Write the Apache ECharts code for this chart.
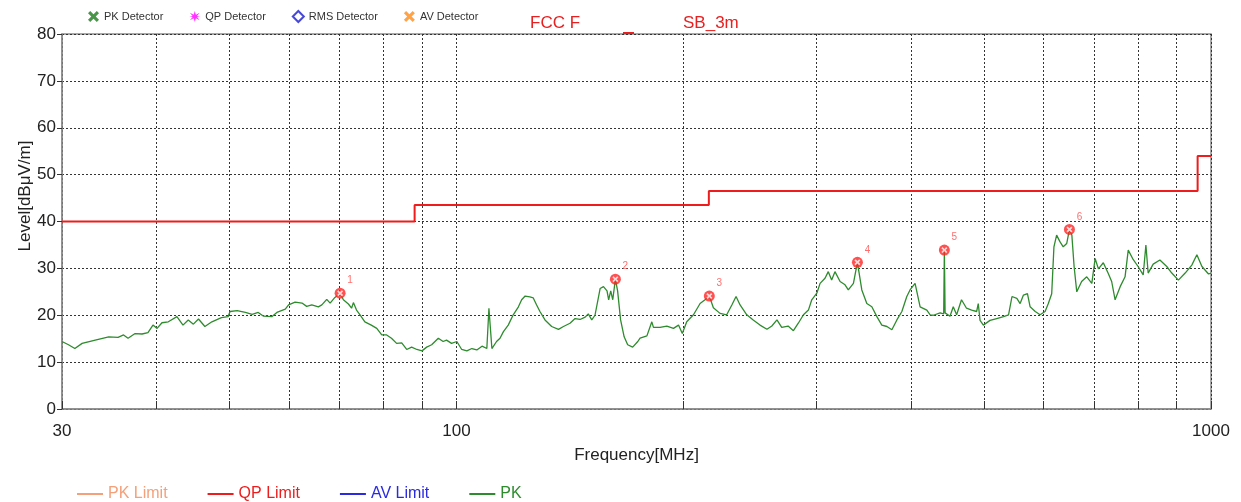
<!DOCTYPE html>
<html><head><meta charset="utf-8">
<script src="https://cdn.jsdelivr.net/npm/echarts@6/dist/echarts.min.js"></script>
<style>html,body{margin:0;padding:0;background:#fff}#c{width:1241px;height:502px}</style>
</head><body><div id="c"></div><script>
// ---- data ----
const pkFreq = [30,30.6,31.2,31.9,33.2,34.6,35.6,36.2,36.7,37.5,38.3,39.0,39.6,40.1,40.7,41.5,42.6,43.4,44.1,44.8,45.5,46.4,47.4,48.8,49.8,50.1,51.2,52.5,53.6,54.6,55.5,56.9,57.8,59.3,59.9,61.1,62.4,63.3,64.3,65.6,66.3,67.3,68.0,69.0,70.1,70.8,71.9,72.6,73.0,73.7,74.5,75.6,77.1,78.4,79.6,80.8,82.0,83.3,84.6,85.9,87.2,88.6,90.0,91.3,92.7,94.6,96.0,97.0,98.5,100.1,101.6,103.2,104.8,106.4,108.1,109.7,110.4,110.9,111.4,113.0,114.2,115.4,117.1,118.9,120.8,122.0,123.3,125.1,126.4,127.7,129.0,131.0,133.7,136.5,138.6,141.4,143.6,145.8,148.1,149.5,151.1,152.6,155.0,156.6,158.3,159.1,160.1,161.1,162.4,163.5,165.0,166.8,168.6,171.2,173.9,175.1,178.8,181.5,182.4,186.1,190.0,193.9,196.9,199.2,201.9,206.1,210.3,213.5,216.3,219.0,223.5,228.1,231.7,234.7,237.6,242.5,247.3,252.5,257.9,261.8,265.9,269.8,275.1,279.6,283.8,288.3,292.7,295.7,300.3,303.3,307.9,311.0,314.2,317.4,322.4,327.3,330.6,335.8,339.9,344.5,349.8,355.2,360.7,366.2,371.9,377.6,383.4,389.3,395.2,399.1,405.3,411.6,420.1,424.4,428.6,430.8,437.5,442.3,443.2,444.2,450.9,455.4,460.1,467.0,474.2,481.7,489.1,491.5,494.2,499.2,509.5,520.0,530.9,539.1,544.8,552.9,558.5,564.2,571.1,575.8,584.8,593.6,602.7,608.7,615.0,619.2,624.3,630.6,637.0,643.8,649.2,654.0,658.5,663.9,673.8,684.4,695.1,702.1,709.2,719.9,730.9,738.5,746.3,757.9,769.3,776.8,788.5,800.5,813.1,819.8,825.5,838.3,855.6,873.7,887.2,905.3,924.2,943.1,957.8,972.7,992.5,1000];
const pkLevel = [14.4,13.7,12.9,14.0,14.7,15.4,15.3,15.8,15.1,16.1,16.0,16.3,17.9,17.2,18.4,18.6,19.7,17.9,19.0,18.1,19.2,17.6,18.6,19.5,19.7,20.8,21.0,20.6,20.2,20.6,19.8,19.7,20.6,21.3,22.2,22.8,22.6,21.9,22.2,21.8,22.2,23.4,22.6,23.8,24.7,23.3,22.4,21.5,22.7,21.1,20.1,18.6,17.9,17.2,15.8,15.8,15.1,14.0,14.1,12.7,13.2,12.7,12.4,13.2,13.7,15.1,14.4,14.7,14.0,14.4,12.7,12.4,12.9,12.6,13.4,12.9,21.5,21.5,12.9,14.4,15.1,16.5,17.9,20.1,21.8,23.3,24.1,23.9,23.7,22.2,20.8,19.0,17.6,17.0,17.6,18.3,19.3,19.1,19.6,20.3,19.0,20.0,25.7,26.1,25.2,23.3,25.2,23.3,27.7,25.2,19.0,15.4,13.7,13.2,14.4,15.1,15.6,18.6,17.4,17.4,17.7,17.2,17.9,16.1,18.6,20.1,22.5,23.3,24.1,21.6,20.4,20.1,22.2,24.0,22.2,20.1,19.0,17.9,17.0,17.7,19.0,17.4,17.7,16.7,18.3,20.1,21.1,23.3,24.7,26.8,27.9,29.3,27.5,29.3,27.2,26.5,25.4,26.8,31.3,25.4,22.5,21.8,19.7,17.9,17.6,16.9,19.0,20.8,24.0,25.4,26.8,21.8,21.1,20.1,20.0,19.8,20.5,20.3,33.9,20.5,19.8,21.8,20.1,23.3,21.5,21.1,20.8,22.5,18.9,17.9,18.9,19.3,19.7,20.1,24.0,23.6,22.5,24.3,24.6,21.8,20.8,20.1,20.8,22.5,24.6,34.6,37.1,35.7,34.6,35.3,38.3,37.1,30.4,25.0,27.2,28.2,26.8,32.1,29.9,31.2,28.9,27.2,23.3,26.1,28.2,33.9,31.9,30.4,28.6,35.0,29.0,30.9,31.8,30.4,29.0,27.5,29.0,30.7,32.9,30.4,28.8,29.0];
const limitFreq  = [30, 88, 88, 216, 216, 960, 960, 1000];
const limitLevel = [40, 40, 43.5, 43.5, 46.5, 46.5, 54, 54];
const markerFreq  = [70.1, 162.4, 216.3, 339.9, 443.2, 649.2];
const markerLevel = [24.7, 27.7, 24.1, 31.3, 33.9, 38.3];
const markerLabels = ['1','2','3','4','5','6'];
const xTickValues  = [30,40,50,60,70,80,90,100,200,300,400,500,600,700,800,900,1000];
const xLabelValues = [30,100,1000];
const detectorNames = ['PK Detector','QP Detector','RMS Detector','AV Detector'];
const traceNames = ['PK Limit','QP Limit','AV Limit','PK'];

// ---- chart ----
const FONT = '"Liberation Sans", Arial, sans-serif';
const C = {pkLim:'#f4a07a', qp:'#ee1c1c', av:'#2a2ae0', pk:'#2e8b2e', mk:'#ff2626'};
const X_PATH = 'path://M2,0 L5,3 L8,0 L10,2 L7,5 L10,8 L8,10 L5,7 L2,10 L0,8 L3,5 L0,2 Z';
const STAR_PATH = 'path://M5,0 L6,3.5 L9.5,1.5 L7,4.5 L10,5 L7,5.5 L9.5,8.5 L6,6.5 L5,10 L4,6.5 L0.5,8.5 L3,5.5 L0,5 L3,4.5 L0.5,1.5 L4,3.5 Z';

const chart = echarts.init(document.getElementById('c'), null, {renderer:'canvas'});
const zip = (a,b) => a.map((v,i)=>[v,b[i]]);

chart.setOption({
  animation:false,
  textStyle:{fontFamily:FONT},
  grid:{left:62,right:30,top:34,bottom:93,show:true,borderColor:'#8c8c8c',borderWidth:1.5},
  xAxis:{
    type:'log', logBase:10, min:30, max:1000,
    name:'Frequency[MHz]', nameLocation:'middle', nameGap:38,
    nameTextStyle:{fontSize:17,color:'#222',fontFamily:FONT},
    axisLine:{show:true,lineStyle:{color:'#8c8c8c',width:1.5}},
    axisTick:{show:true,inside:true,length:8,customValues:xTickValues,lineStyle:{color:'#333'}},
    axisLabel:{customValues:xLabelValues,fontSize:17,color:'#222',margin:14,fontFamily:FONT,
      formatter:v=>String(Math.round(v))},
    splitLine:{show:true,lineStyle:{color:'#333',type:[2,2],width:1}}
  },
  yAxis:{
    type:'value', min:0, max:80, interval:10,
    axisLine:{show:true,lineStyle:{color:'#8c8c8c',width:1.5}},
    axisTick:{show:true,inside:false,length:5,lineStyle:{color:'#333'}},
    axisLabel:{fontSize:17,color:'#222',margin:6,fontFamily:FONT},
    splitLine:{show:true,lineStyle:{color:'#333',type:[2,2],width:1}}
  },
  legend:[
    {top:5,left:83,itemGap:26,itemWidth:11,itemHeight:11,selectedMode:false,
     textStyle:{fontSize:11,color:'#333',fontFamily:FONT},data:detectorNames},
    {top:481,left:72,itemGap:40,itemWidth:26,itemHeight:2,icon:'rect',selectedMode:false,
     textStyle:{fontSize:16,fontFamily:FONT},
     data:[{name:traceNames[0],textStyle:{color:C.pkLim}},{name:traceNames[1],textStyle:{color:C.qp}},
           {name:traceNames[2],textStyle:{color:C.av}},{name:traceNames[3],textStyle:{color:C.pk}}]}
  ],
  graphic:[
    {type:'text',left:530,top:15,style:{text:'FCC F',fill:'#e82020',font:'17px '+FONT}},
    {type:'rect',shape:{x:623,y:32,width:11,height:2},style:{fill:'#e82020'}},
    {type:'text',left:683,top:15,style:{text:'SB_3m',fill:'#e82020',font:'17px '+FONT}},
    {type:'text',x:25,y:196,rotation:Math.PI/2,
     style:{text:'Level[dBμV/m]',align:'center',verticalAlign:'middle',fill:'#222',font:'17px '+FONT}}
  ],
  series:[
    {name:detectorNames[0],type:'scatter',data:[],symbol:X_PATH,itemStyle:{color:'#1e7a1e'}},
    {name:detectorNames[1],type:'scatter',data:[],symbol:STAR_PATH,itemStyle:{color:'#ff00ff'}},
    {name:detectorNames[2],type:'scatter',data:[],symbol:'diamond',
     itemStyle:{color:'#ffffff',borderColor:'#1a1ad0',borderWidth:2}},
    {name:detectorNames[3],type:'scatter',data:[],symbol:X_PATH,itemStyle:{color:'#ff8c1a'}},
    {name:traceNames[0],type:'line',data:[],symbol:'none',lineStyle:{color:C.pkLim,width:2},itemStyle:{color:C.pkLim}},
    {name:traceNames[2],type:'line',data:[],symbol:'none',lineStyle:{color:C.av,width:2},itemStyle:{color:C.av}},
    {name:traceNames[3],type:'line',data:zip(pkFreq,pkLevel),symbol:'none',showSymbol:false,
     lineStyle:{color:C.pk,width:1.3},itemStyle:{color:C.pk},z:3},
    {name:traceNames[1],type:'line',data:zip(limitFreq,limitLevel),symbol:'none',
     lineStyle:{color:C.qp,width:2},itemStyle:{color:C.qp},z:4},
    {name:'Markers',type:'scatter',data:zip(markerFreq,markerLevel),symbol:'circle',symbolSize:11,
     itemStyle:{color:C.mk},z:5,
     label:{show:true,position:'top',offset:[10,3],color:'#ff4a4a',fontSize:10,fontFamily:FONT,
       formatter:p=>markerLabels[p.dataIndex]}},
    {name:'MarkersX',type:'scatter',data:zip(markerFreq,markerLevel),symbol:X_PATH,symbolSize:6,
     itemStyle:{color:'#ffffff'},z:6,silent:true}
  ]
});
</script></body></html>
